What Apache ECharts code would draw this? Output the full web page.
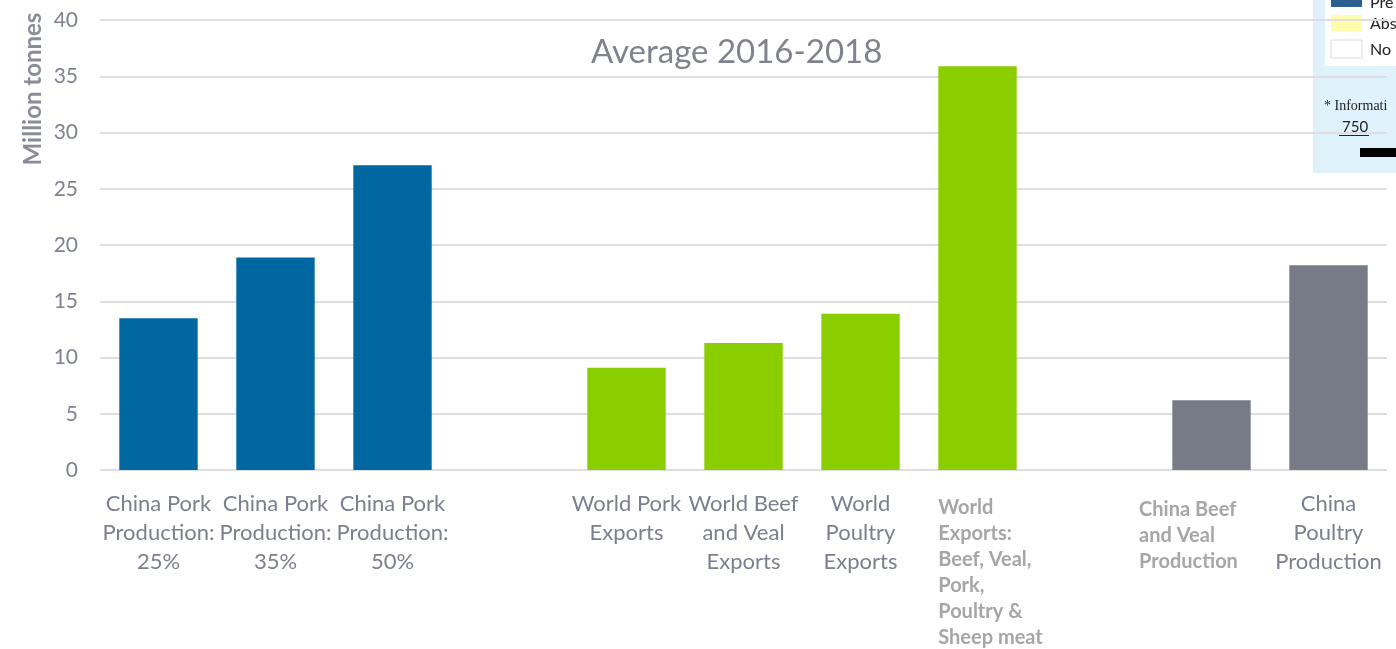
<!DOCTYPE html>
<html>
<head>
<meta charset="utf-8">
<script src="https://cdn.jsdelivr.net/npm/echarts@6/dist/echarts.min.js"></script>
<style>
  html, body { margin: 0; padding: 0; background: #fff; }
  #chart { width: 1396px; height: 649px; }
</style>
</head>
<body>
<div id="chart"></div>
<script>
// categories (two empty slots separate the groups)
const categories = [
  "China Pork\nProduction:\n25%",
  "China Pork\nProduction:\n35%",
  "China Pork\nProduction:\n50%",
  " ",
  "World Pork\nExports",
  "World Beef\nand Veal\nExports",
  "World\nPoultry\nExports",
  "World\nExports:\nBeef, Veal,\nPork,\nPoultry &\nSheep meat",
  "  ",
  "China Beef\nand Veal\nProduction",
  "China\nPoultry\nProduction"
];
// which labels are drawn in the bold, lighter style
const boldLabels = [false, false, false, false, false, false, false, true, false, true, false];

// values in million tonnes, one array per colour group
const chinaPork = [13.5, 18.9, 27.1, null, null, null, null, null, null, null, null];
const worldExports = [null, null, null, null, 9.1, 11.3, 13.9, 35.9, null, null, null];
const chinaOther = [null, null, null, null, null, null, null, null, null, 6.2, 18.2];

const yTicks = { min: 0, max: 40, interval: 5 };

const chart = echarts.init(document.getElementById("chart"));

// per-label nudges so the bold labels sit left-aligned under their bars
const xData = categories.map((c, i) => {
  if (!boldLabels[i]) return c;
  return {
    value: c,
    textStyle: { padding: i === 7 ? [6, 0, 0, 26] : [8, 46, 0, 0] },
  };
});

// the pasted map legend sits on its own layer under the chart
const inset = (el) => Object.assign({ zlevel: -1 }, el);

chart.setOption({
  animation: false,
  title: {
    text: "Average 2016-2018",
    left: 586,
    top: 31,
    textStyle: { fontFamily: "Lato", fontSize: 33, fontWeight: "normal", color: "#80838f" },
  },
  grid: { left: 100, right: 9, top: 20, bottom: 179 },
  xAxis: {
    type: "category",
    data: xData,
    axisLine: { show: false },
    axisTick: { show: false },
    axisLabel: {
      interval: 0,
      margin: 19,
      formatter: (v, i) => {
        const s = boldLabels[i] ? "b" : "n";
        return v.split("\n").map((l) => `{${s}|${l}}`).join("\n");
      },
      rich: {
        n: { fontFamily: "Lato", fontSize: 22, lineHeight: 29, color: "#7b7f8e" },
        b: { fontFamily: "Lato", fontSize: 20, lineHeight: 26, fontWeight: "bold", color: "#a6a6a6", align: "left" },
      },
    },
  },
  yAxis: {
    type: "value",
    min: yTicks.min,
    max: yTicks.max,
    interval: yTicks.interval,
    axisLine: { show: false },
    axisTick: { show: false },
    axisLabel: { margin: 22, fontFamily: "Lato", fontSize: 21, color: "#7f8391" },
    splitLine: { lineStyle: { color: "#dedee1", width: 2 } },
  },
  series: [
    { name: "China pork", type: "bar", stack: "all", data: chinaPork, barCategoryGap: "33%", itemStyle: { color: "#0067a0" } },
    { name: "World exports", type: "bar", stack: "all", data: worldExports, itemStyle: { color: "#8bce00" } },
    { name: "China other", type: "bar", stack: "all", data: chinaOther, itemStyle: { color: "#777a87" } },
  ],
  graphic: [
    // y axis name
    {
      type: "text",
      x: 33, y: 89,
      rotation: Math.PI / 2,
      style: {
        text: "Million tonnes",
        fontFamily: "Lato", fontSize: 24, fontWeight: "bold", fill: "#8a8d99",
        align: "center", verticalAlign: "middle",
      },
    },
    inset({ type: "rect", shape: { x: 1313, y: 0, width: 83, height: 173 }, style: { fill: "#dff1fa" } }),
    inset({ type: "rect", shape: { x: 1325, y: 0, width: 71, height: 66 }, style: { fill: "#ffffff" } }),
    inset({ type: "rect", shape: { x: 1331, y: 0, width: 31, height: 7 }, style: { fill: "#2d5f8e" } }),
    inset({ type: "rect", shape: { x: 1331, y: 15, width: 31, height: 16 }, style: { fill: "#fdfdae" } }),
    inset({ type: "rect", shape: { x: 1331, y: 40, width: 31, height: 18 }, style: { fill: "#fff", stroke: "#dcdcdc" } }),
    inset({ type: "text", x: 1370, y: 3, style: { text: "Pre", fontFamily: "Lato", fontSize: 16, fill: "#222", verticalAlign: "middle" } }),
    inset({ type: "text", x: 1370, y: 24, style: { text: "Abs", fontFamily: "Lato", fontSize: 16, fill: "#222", verticalAlign: "middle" } }),
    inset({ type: "text", x: 1370, y: 50, style: { text: "No", fontFamily: "Lato", fontSize: 16, fill: "#222", verticalAlign: "middle" } }),
    inset({ type: "text", x: 1324, y: 106, style: { text: "* Informati", fontFamily: "Liberation Serif", fontSize: 14, fill: "#222", verticalAlign: "middle" } }),
    inset({ type: "text", x: 1342, y: 127, style: { text: "750", fontFamily: "Lato", fontSize: 15, fill: "#222", verticalAlign: "middle" } }),
    inset({ type: "rect", shape: { x: 1339, y: 135, width: 30, height: 1 }, style: { fill: "#222" } }),
    inset({ type: "rect", shape: { x: 1360, y: 148, width: 36, height: 9 }, style: { fill: "#000" } }),
  ],
});
</script>
</body>
</html>
